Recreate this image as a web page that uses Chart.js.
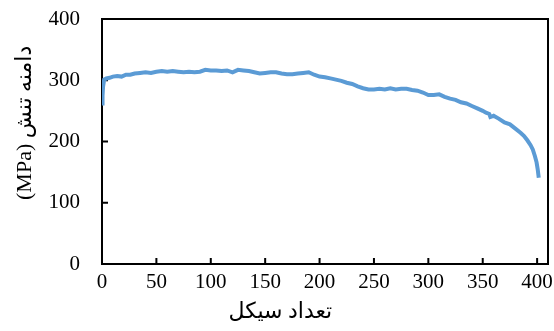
<!DOCTYPE html>
<html lang="fa">
<head>
    <meta charset="UTF-8" />
    <title>دامنه تنش</title>
    <script src="https://cdn.jsdelivr.net/npm/chart.js"></script>
    <style>
        body { margin: 0; background: #fff; }
    </style>
</head>
<body>
    <canvas id="stressChart" width="554" height="331"></canvas>

    <script>
        // داده‌ها
        const cycles = [0, 0.5, 1, 2, 4, 7, 10, 14, 18, 22, 26, 30, 35, 40, 45, 50, 55, 60, 65, 70,
            75, 80, 85, 90, 95, 100, 105, 110, 115, 120, 125, 130, 135, 140, 145, 150, 155, 160, 165, 170,
            175, 180, 185, 190, 195, 200, 205, 210, 215, 220, 225, 230, 235, 240, 245, 250, 255, 260, 265, 270,
            275, 280, 285, 290, 295, 300, 305, 310, 315, 320, 325, 330, 335, 340, 345, 350, 353, 356, 357, 360,
            365, 370, 375, 380, 385, 388, 391, 394, 396, 398, 399.5, 400.5, 401.5];
        const stress = [262, 275, 290, 301, 303, 304, 306, 307, 306, 309, 309, 311, 312, 313, 312, 314, 315, 314, 315, 314,
            313, 314, 313, 314, 317, 316, 316, 315, 316, 313, 317, 316, 315, 313, 311, 312, 313, 313, 311, 310,
            310, 311, 312, 313, 309, 306, 305, 303, 301, 299, 296, 294, 290, 287, 285, 285, 286, 285, 287, 285,
            286, 286, 284, 283, 280, 276, 276, 277, 273, 270, 268, 264, 262, 258, 254, 250, 247, 245, 240, 242,
            237, 231, 228, 221, 214, 209, 202, 194, 187, 176, 166, 155, 141];
        const xTicks = [0, 50, 100, 150, 200, 250, 300, 350, 400];
        const yTicks = [0, 100, 200, 300, 400];
        const xTitle = 'تعداد سیکل';
        const yTitle = 'دامنه تنش (MPa)';

        const serif = "'Liberation Serif', 'Times New Roman', 'DejaVu Sans', serif";

        // قاب، تیک‌های داخلی و عنوان محورها
        const framePlugin = {
            id: 'frame',
            beforeDatasetsDraw(chart) {
                const { ctx, chartArea: a, scales: { x, y } } = chart;
                ctx.save();
                ctx.strokeStyle = '#000';
                ctx.lineWidth = 2;
                ctx.strokeRect(a.left, a.top, a.right - a.left, a.bottom - a.top);
                ctx.beginPath();
                xTicks.forEach(v => {
                    const px = x.getPixelForValue(v);
                    ctx.moveTo(px, a.bottom);
                    ctx.lineTo(px, a.bottom - 6);
                });
                yTicks.forEach(v => {
                    const py = y.getPixelForValue(v);
                    ctx.moveTo(a.left, py);
                    ctx.lineTo(a.left + 6, py);
                });
                ctx.stroke();
                ctx.restore();
            },
            afterDraw(chart) {
                const { ctx, chartArea: a } = chart;
                ctx.save();
                ctx.fillStyle = '#000';
                ctx.font = '22px ' + serif;
                ctx.textAlign = 'center';
                ctx.textBaseline = 'middle';
                ctx.direction = 'rtl';
                ctx.fillText(xTitle, a.left + (a.right - a.left) * 0.40, a.bottom + 48);
                ctx.translate(25, a.top + (a.bottom - a.top) * 0.424);
                ctx.rotate(-Math.PI / 2);
                ctx.fillText(yTitle, 0, 0);
                ctx.restore();
            }
        };

        const ctx = document.getElementById('stressChart').getContext('2d');
        new Chart(ctx, {
            type: 'line',
            data: {
                datasets: [{
                    data: cycles.map((c, i) => ({ x: c, y: stress[i] })),
                    borderColor: '#5B9BD5',
                    borderWidth: 4,
                    pointRadius: 0,
                    tension: 0,
                    fill: false
                }]
            },
            options: {
                responsive: false,
                animation: false,
                devicePixelRatio: 1,
                layout: { padding: { left: 0, top: 19, right: 6, bottom: 0 } },
                plugins: {
                    legend: { display: false },
                    tooltip: { enabled: false }
                },
                scales: {
                    x: {
                        type: 'linear',
                        min: 0,
                        max: 410,
                        grid: { display: false, drawTicks: false },
                        border: { display: false },
                        afterBuildTicks: s => { s.ticks = xTicks.map(v => ({ value: v })); },
                        afterFit: s => { s.height = 67; s.paddingLeft = 0; s.paddingRight = 0; },
                        ticks: {
                            padding: 6,
                            color: '#000',
                            maxRotation: 0,
                            font: { family: serif, size: 21 }
                        }
                    },
                    y: {
                        min: 0,
                        max: 400,
                        grid: { display: false, drawTicks: false },
                        border: { display: false },
                        afterBuildTicks: s => { s.ticks = yTicks.map(v => ({ value: v })); },
                        afterFit: s => { s.width = 102; s.paddingTop = 0; s.paddingBottom = 0; },
                        ticks: {
                            padding: 22,
                            color: '#000',
                            font: { family: serif, size: 21 }
                        }
                    }
                }
            },
            plugins: [framePlugin]
        });
    </script>
</body>
</html>
